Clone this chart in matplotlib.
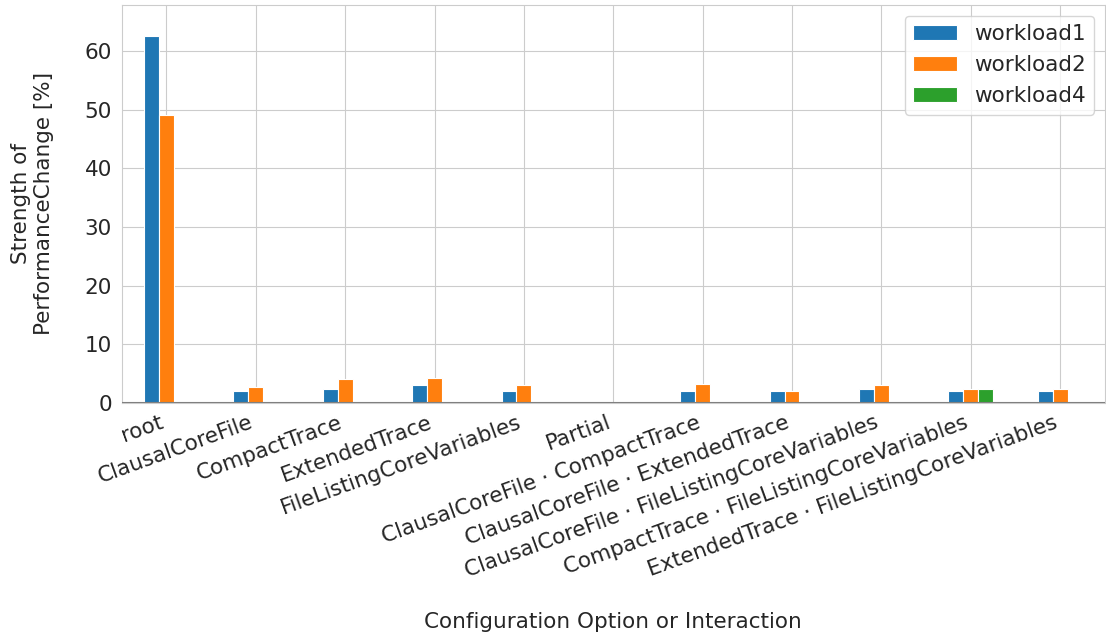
import numpy as np
import matplotlib
matplotlib.use("Agg")
import matplotlib.pyplot as plt
import seaborn as sns

# options / interactions on the x axis
options = [
    "root",
    "ClausalCoreFile",
    "CompactTrace",
    "ExtendedTrace",
    "FileListingCoreVariables",
    "Partial",
    "ClausalCoreFile · CompactTrace",
    "ClausalCoreFile · ExtendedTrace",
    "ClausalCoreFile · FileListingCoreVariables",
    "CompactTrace · FileListingCoreVariables",
    "ExtendedTrace · FileListingCoreVariables",
]

# strength of performance change per workload, NaN = no change detected
workload1 = [62.7, 2.0, 2.3, 2.95, 2.0, np.nan, 1.9, 1.9, 2.35, 2.0, 2.05]
workload2 = [49.2, 2.7, 4.0, 4.15, 3.05, np.nan, 3.25, 1.9, 3.05, 2.4, 2.4]
workload4 = [np.nan, np.nan, np.nan, np.nan, np.nan, np.nan, np.nan, np.nan, np.nan, 2.4, np.nan]

series = {"workload1": workload1, "workload2": workload2, "workload4": workload4}
colors = ["#1f77b4", "#ff7f0e", "#2ca02c"]

sns.set_style("whitegrid")
plt.rcParams["font.family"] = ["DejaVu Sans"]
fs = 15.5
plt.rcParams["font.size"] = fs

fig = plt.figure(figsize=(11.06, 6.38), dpi=100)
ax = fig.add_axes([0.110, 0.369, 0.889, 0.623])

x = np.arange(len(options))
total_width = 0.5
w = total_width / len(series)
for i, (name, vals) in enumerate(series.items()):
    vals = np.array(vals, dtype=float)
    pos = x - total_width / 2 + (i + 0.5) * w
    mask = ~np.isnan(vals)
    ax.bar(pos[mask], vals[mask], width=w, color=colors[i], label=name,
           edgecolor="white", linewidth=0.8)

ax.axhline(0, color="grey", linewidth=1.5, zorder=3)
ax.set_xlim(-0.5, len(options) - 0.5)
ax.set_ylim(0, 67.9)
ax.set_yticks(range(0, 70, 10))
ax.set_xticks(x)
ax.set_xticklabels(options, rotation=20, ha="right", fontsize=fs)
ax.tick_params(axis="y", labelsize=fs)

ax.set_ylabel("Strength of\nPerformanceChange [%]", fontsize=fs, labelpad=22)
ax.set_xlabel("Configuration Option or Interaction", fontsize=fs, labelpad=22)
ax.legend(loc="upper right", fontsize=fs)

fig.savefig("out.png", dpi=100)
